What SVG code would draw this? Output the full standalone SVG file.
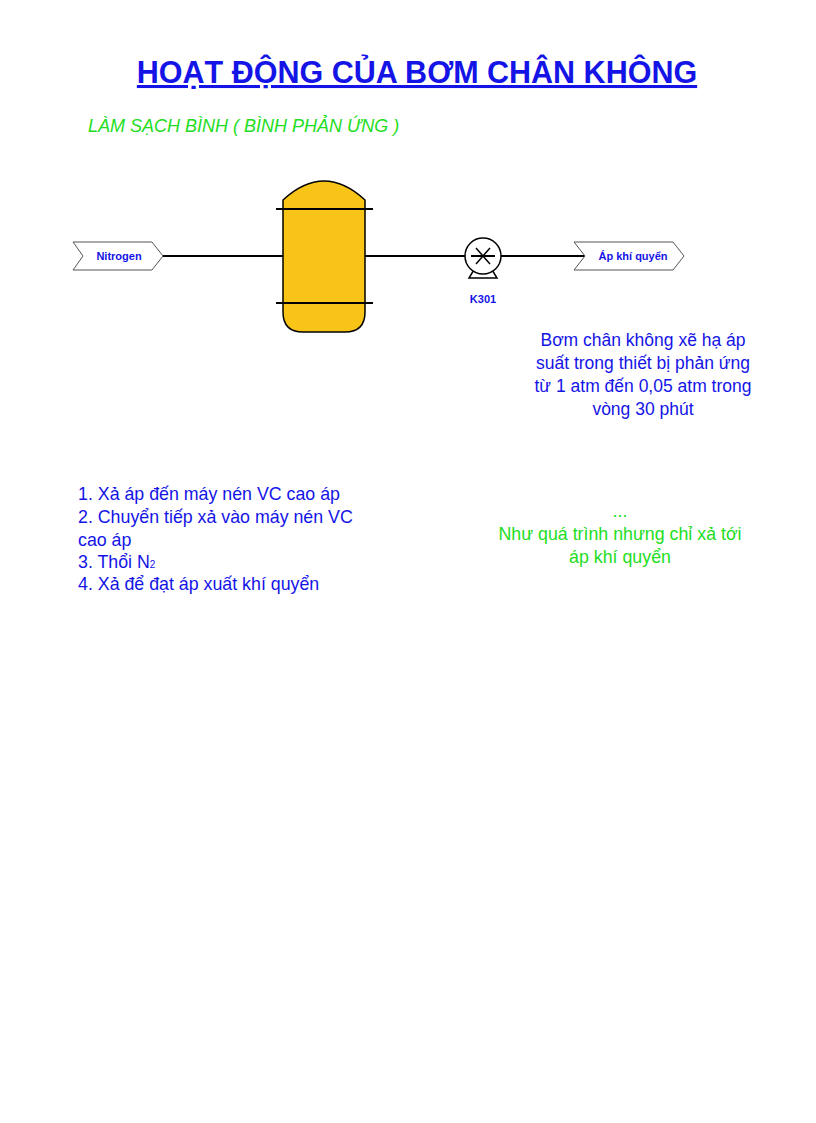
<svg xmlns="http://www.w3.org/2000/svg" width="816" height="1123" viewBox="0 0 816 1123">
<style>
.b{fill:#1414e6;font-family:"Liberation Sans",Arial,sans-serif}
.g{fill:#22dd22;font-family:"Liberation Sans",Arial,sans-serif}
.ln{stroke:#000;stroke-width:2;fill:none}
</style>
<rect width="816" height="1123" fill="#fff"/>
<text x="417" y="83" text-anchor="middle" class="b" font-size="30.5" font-weight="bold" text-decoration="underline">HOẠT ĐỘNG CỦA BƠM CHÂN KHÔNG</text>
<text x="88" y="132" class="g" font-size="18" font-style="italic">LÀM SẠCH BÌNH ( BÌNH PHẢN ỨNG )</text>
<g id="connectors">
<line class="ln" x1="163" y1="256" x2="283" y2="256"/>
<line class="ln" x1="365" y1="256" x2="465" y2="256"/>
<line class="ln" x1="501" y1="256" x2="585" y2="256"/>
</g>
<g id="nitrogen">
<polygon points="73,242 152,242 163,256 152,270 73,270 83,256" fill="#fff" stroke="#555" stroke-width="1"/>
<text x="119" y="260" text-anchor="middle" class="b" font-size="11" font-weight="bold">Nitrogen</text>
</g>
<g id="vessel">
<path d="M283,200 Q324,162 365,200 L365,312 Q365,332 345,332 L303,332 Q283,332 283,312 Z" fill="#f8c418" stroke="#000" stroke-width="1.5"/>
<line class="ln" x1="276" y1="209" x2="373" y2="209"/>
<line class="ln" x1="276" y1="303" x2="373" y2="303"/>
</g>
<g id="pump">
<polygon points="469,278 497,278 491,268 475,268" fill="#fff" stroke="#000" stroke-width="1.5"/>
<circle cx="483" cy="256" r="18" fill="#fff" stroke="#000" stroke-width="1.5"/>
<line class="ln" x1="471" y1="256" x2="495" y2="256"/>
<line stroke="#000" stroke-width="1.5" x1="476" y1="248" x2="490" y2="264"/>
<line stroke="#000" stroke-width="1.5" x1="490" y1="248" x2="476" y2="264"/>
<text x="483" y="303" text-anchor="middle" class="b" font-size="11" font-weight="bold">K301</text>
</g>
<g id="atm">
<polygon points="574,242 673,242 684,256 673,270 574,270 585,256" fill="#fff" stroke="#555" stroke-width="1"/>
<text x="633" y="260" text-anchor="middle" class="b" font-size="11" font-weight="bold">Áp khí quyển</text>
</g>
<g class="b" font-size="17.5" text-anchor="middle">
<text x="643" y="346">Bơm chân không xẽ hạ áp</text>
<text x="643" y="369">suất trong thiết bị phản ứng</text>
<text x="643" y="392">từ 1 atm đến 0,05 atm trong</text>
<text x="643" y="415">vòng 30 phút</text>
</g>
<g class="b" font-size="17.8">
<text x="78" y="500">1. Xả áp đến máy nén VC cao áp</text>
<text x="78" y="523">2. Chuyển tiếp xả vào máy nén VC</text>
<text x="78" y="546">cao áp</text>
<text x="78" y="568">3. Thổi N<tspan font-size="10">2</tspan></text>
<text x="78" y="590">4. Xả để đạt áp xuất khí quyển</text>
</g>
<g class="g" font-size="17.8" text-anchor="middle">
<text x="620" y="517">...</text>
<text x="620" y="540">Như quá trình nhưng chỉ xả tới</text>
<text x="620" y="563">áp khí quyển</text>
</g>
</svg>
